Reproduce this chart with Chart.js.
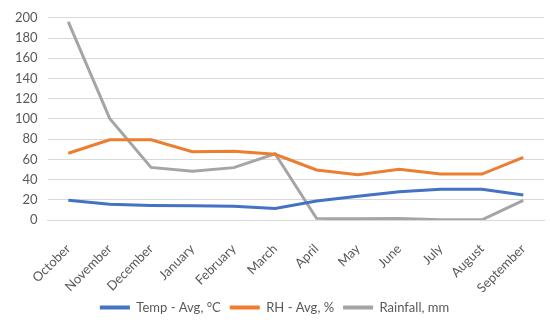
<!DOCTYPE html>
<html>
<head>
<meta charset="utf-8">
<script src="https://cdn.jsdelivr.net/npm/chart.js@4.4.1/dist/chart.umd.min.js"></script>
<style>
  html, body { margin:0; padding:0; background:#fff; }
  #wrap { width:550px; height:324px; position:relative; }
</style>
</head>
<body>
<div id="wrap"><canvas id="chart"></canvas></div>
<script>
  const MONTHS = ['October','November','December','January','February','March','April','May','June','July','August','September'];
  const TEMP = [19.5, 15.5, 14.3, 14, 13.5, 11.5, 18.7, 23.6, 28, 30.3, 30.3, 24.8];
  const RH = [66, 79.3, 79.3, 67.5, 68, 65, 49.5, 44.8, 50.3, 45.4, 45.4, 62];
  const RAIN = [196, 100.5, 52, 48.2, 51.8, 65.5, 1.6, 1.2, 1.6, 0.2, 0.2, 19.4];
  const Y_TICKS = { min: 0, max: 200, step: 20 };

  const TXT = '#595959';
  Chart.defaults.font.family = 'Lato, "Open Sans", sans-serif';
  Chart.defaults.font.size = 13;
  Chart.defaults.color = TXT;

  const line = (label, data, color) => ({
    label, data,
    borderColor: color, backgroundColor: color,
    borderWidth: 3, pointRadius: 0, tension: 0, fill: false
  });

  new Chart(document.getElementById('chart'), {
    type: 'line',
    data: {
      labels: MONTHS,
      datasets: [
        line('Temp - Avg, °C', TEMP, '#4472C4'),
        line('RH - Avg, %', RH, '#ED7D31'),
        line('Rainfall, mm', RAIN, '#A5A5A5'),
      ]
    },
    options: {
      responsive: true, maintainAspectRatio: false, animation: false,
      layout: { padding: { left: 5, right: 6, top: -3, bottom: 0 } },
      plugins: {
        tooltip: { enabled: false },
        legend: {
          position: 'bottom',
          labels: {
            boxWidth: 30, boxHeight: 4, padding: 9, color: TXT, font: { size: 13 },
            generateLabels: (chart) => Chart.defaults.plugins.legend.labels.generateLabels(chart)
              .map(l => ({ ...l, lineWidth: 0 }))
          }
        }
      },
      scales: {
        x: {
          offset: true,
          grid: { display: false },
          border: { display: true, color: '#d9d9d9' },
          ticks: { minRotation: 45, maxRotation: 45, autoSkip: false, padding: 14, font: { size: 13, lineHeight: 1 } },
          afterFit: (scale) => { scale.height = 72; }
        },
        y: {
          min: Y_TICKS.min, max: Y_TICKS.max,
          grid: { color: '#d9d9d9', drawTicks: false },
          border: { display: false },
          ticks: { stepSize: Y_TICKS.step, padding: 10, autoSkip: false }
        }
      }
    }
  });
</script>
</body>
</html>
